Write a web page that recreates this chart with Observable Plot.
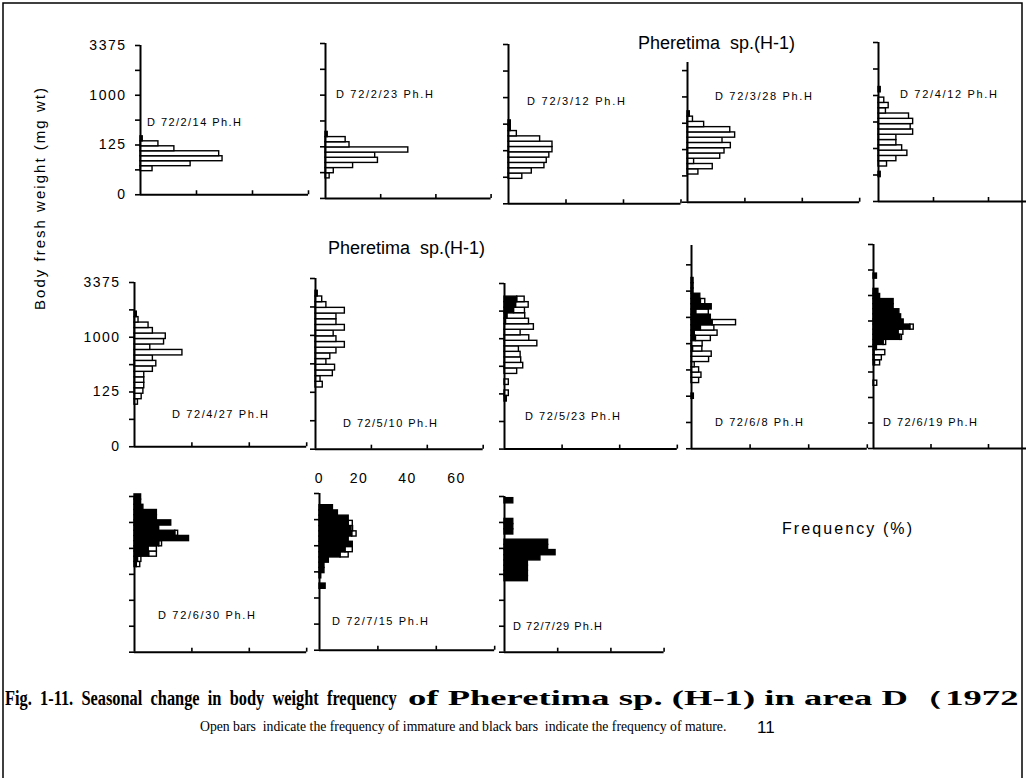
<!DOCTYPE html>
<html><head><meta charset="utf-8">
<script src="https://cdn.jsdelivr.net/npm/d3@7"></script>
<script src="https://cdn.jsdelivr.net/npm/@observablehq/plot@0.6"></script>
<style>
html,body{margin:0;padding:0;overflow:hidden;background:#fff}
#fig{position:relative;width:1026px;height:778px;overflow:hidden;background:#fff}
.panel{position:absolute}
.panel svg{background:transparent !important;overflow:visible;max-width:none !important}
#overlay{position:absolute;left:0;top:0;pointer-events:none}
</style></head>
<body><div id="fig"></div>
<script>
// ---------- DATA (frequency %, classes of 0.5 in cube-root of body weight, mg^(1/3)) ----------
const dates = ["72/2/14","72/2/23","72/3/12","72/3/28","72/4/12","72/4/27","72/5/10","72/5/23","72/6/8","72/6/19","72/6/30","72/7/15","72/7/29"];
// lower cube-root bound of the first class of each sample
const classStart = [2.37, 1.94, 2.35, 2.63, 2.3, 3.84, 5.42, 4.31, 4.75, 6.15, 8.2, 5.88, 6.34];

const immature_0214 = [4.3, 17.9, 29.3, 28.1, 12.1, 6.4, 0];
const mature_0214   = [0, 0, 0, 0, 0, 0, 0.8];
const immature_0223 = [1.5, 3.0, 10.0, 19.0, 18.0, 30.0, 8.7, 7.3, 0];
const mature_0223   = [0, 0, 0, 0, 0, 0, 0, 0, 0.8];
const immature_0312 = [4.8, 8.1, 12.5, 13.3, 14.2, 15.3, 15.3, 11.0, 2.9, 0, 0];
const mature_0312   = [0, 0, 0, 0, 0, 0, 0, 0, 0, 0.8, 0.8];
const immature_0328 = [3.8, 8.8, 2.3, 11.4, 12.9, 15.1, 12.2, 16.6, 14.9, 5.8, 1.9, 0];
const mature_0328   = [0, 0, 0, 0, 0, 0, 0, 0, 0, 0, 0, 0.8];
const immature_0412 = [0, 0, 3.1, 6.5, 10.5, 8.6, 6.5, 6.5, 12.6, 11.7, 12.6, 11.1, 2.7, 3.7, 2.1, 0, 0];
const mature_0412   = [0.8, 0, 0, 0, 0, 0, 0, 0, 0, 0, 0, 0, 0, 0, 0, 0, 0.8];
const immature_0427 = [1.2, 2.5, 3.1, 3.4, 3.4, 3.4, 6.4, 7.6, 6.4, 16.7, 5.5, 10.3, 10.9, 6.4, 4.9, 1.4, 0];
const mature_0427   = [0, 0, 0, 0, 0, 0, 0, 0, 0, 0, 0, 0, 0, 0, 0, 0, 0.8];
const immature_0510 = [2.6, 1.8, 6.2, 7.0, 3.9, 5.3, 7.5, 10.5, 7.5, 6.5, 10.5, 7.5, 7.5, 10.5, 3.9, 2.4, 0];
const mature_0510   = [0, 0, 0, 0, 0, 0, 0, 0, 0, 0, 0, 0, 0, 0, 0, 0, 0.8];
const immature_0523 = [0, 1.5, 0, 1.5, 0, 4.4, 6.5, 5.8, 5.6, 5.0, 11.4, 8.6, 5.6, 10.2, 8.0, 6.2, 3.8, 4.4, 2.6];
const mature_0523   = [0.8, 0, 0, 0, 0, 0, 0, 0, 0, 0, 0, 0, 0, 0, 0.5, 1.0, 3.3, 4.0, 4.4];
const immature_0608 = [0, 0, 0, 2.6, 3.4, 2.6, 1.1, 6.0, 6.9, 3.2, 3.8, 5.1, 7.8, 4.6, 8.0, 0, 4.3, 0, 1.5, 0, 0, 0, 0];
const mature_0608   = [0.8, 0, 0, 0, 0, 0, 0, 0, 0, 0.5, 0, 1.5, 1.1, 3.2, 7.2, 6.6, 1.6, 6.9, 3.2, 3.0, 0.7, 0.7, 0.7];
const immature_0619 = [1.3, 0, 0, 0, 1.8, 2.6, 3.8, 0, 0.9, 0.6, 1.7, 1.2, 0, 0, 0, 0, 0, 0, 0, 0, 0, 0];
const mature_0619   = [0, 0, 0, 0, 0.5, 0.3, 0.3, 1.2, 3.5, 9.3, 8.7, 12.8, 10.5, 9.6, 9.0, 7.0, 7.0, 2.3, 1.7, 0, 0, 1.2];
const immature_0630 = [1.2, 1.2, 2.7, 2.9, 1.0, 0, 1.0, 0, 0, 0, 0, 0, 0, 0];
const mature_0630   = [0.8, 1.2, 5.1, 4.9, 8.6, 19.0, 14.2, 8.6, 12.8, 7.8, 7.8, 3.1, 2.3, 2.3];
const immature_0715 = [0, 0, 0, 0, 0, 0, 2.8, 2.5, 0, 0, 1.5, 0.6, 1.4, 0, 0, 0];
const mature_0715   = [2.1, 0, 0.6, 1.7, 1.7, 3.2, 7.2, 8.9, 11.4, 10.0, 11.2, 10.9, 10.0, 10.0, 6.3, 4.6];
const immature_0729 = [0, 0, 0, 0, 0, 0, 0, 0, 0, 0, 0, 0, 0, 0, 0, 0, 0];
const mature_0729   = [0, 8.8, 8.8, 8.8, 8.8, 13.5, 19.2, 16.4, 16.4, 0, 3.3, 3.3, 3.3, 0, 0, 0, 3.3];

const immature = [immature_0214, immature_0223, immature_0312, immature_0328, immature_0412, immature_0427, immature_0510, immature_0523, immature_0608, immature_0619, immature_0630, immature_0715, immature_0729];
const mature   = [mature_0214, mature_0223, mature_0312, mature_0328, mature_0412, mature_0427, mature_0510, mature_0523, mature_0608, mature_0619, mature_0630, mature_0715, mature_0729];

const weightTickLabels = {0: "0", 5: "125", 10: "1000", 15: "3375"}; // cube roots -> mg
const freqTicks = [0, 20, 40, 60];

// ---------- LAYOUT (page pixels) ----------
const layout = [
  {ax:140,   ay:194.5, sx:2.8,   su:9.95,  top:15,    labels:true,  tx:147, ty:126, tw:94},
  {ax:325,   ay:198.3, sx:2.76,  su:10.33, top:15,    labels:false, tx:336, ty:98,  tw:97},
  {ax:508.3, ay:203.3, sx:2.875, su:10.62, top:15,    labels:false, tx:527, ty:105, tw:98},
  {ax:687.3, ay:201.7, sx:2.87,  su:10.53, top:13.27, labels:false, tx:715, ty:100, tw:97},
  {ax:878.3, ay:200.7, sx:2.75,  su:10.6,  top:15,    labels:false, tx:900, ty:98,  tw:97},
  {ax:134.3, ay:446,   sx:2.87,  su:10.95, top:15,    labels:true,  tx:172, ty:418, tw:96},
  {ax:315,   ay:449,   sx:2.795, su:11.38, top:15,    labels:false, tx:343, ty:427, tw:94},
  {ax:504,   ay:448.3, sx:2.88,  su:11.04, top:15,    labels:false, tx:525, ty:420, tw:95},
  {ax:690.7, ay:448.3, sx:2.93,  su:10.51, top:19.34, labels:false, tx:715, ty:426, tw:88},
  {ax:873.3, ay:448.3, sx:2.875, su:10.2,  top:20,    labels:false, tx:883, ty:426, tw:94},
  {ax:134,   ay:651.7, sx:2.87,  su:10.38, top:15,    labels:false, tx:158, ty:619, tw:97},
  {ax:319,   ay:650,   sx:2.92,  su:10.45, top:15,    labels:false, tx:332, ty:625, tw:96},
  {ax:504,   ay:651.7, sx:2.66,  su:10.38, top:15,    labels:false, tx:513, ty:630, tw:89}
];

const fig = document.getElementById("fig");
const cube = u => u * u * u;
const SANS = "'Liberation Sans', Arial, sans-serif";
const SERIF = "'Liberation Serif', 'Times New Roman', serif";

// ---------- PANELS ----------
dates.forEach((date, p) => {
  const L = layout[p];
  const rows = mature[p].map((m, k) => ({
    lo: cube(classStart[p] + k * 0.5),
    hi: cube(classStart[p] + (k + 1) * 0.5),
    m, i: immature[p][k]
  }));
  const mL = 60, mR = 6, mT = 6, mB = 6;
  const plotW = 60 * L.sx, plotH = L.top * L.su;
  const tickU = d3.range(0, L.top + 1e-6, 2.5);
  const chart = Plot.plot({
    width: mL + plotW + mR, height: mT + plotH + mB,
    marginLeft: mL, marginRight: mR, marginTop: mT, marginBottom: mB,
    style: {background: "transparent", overflow: "visible", fontFamily: SANS, letterSpacing: "1.5px", color: "black"},
    x: {domain: [0, 60], label: null},
    y: {type: "pow", exponent: 1/3, domain: [0, cube(L.top)], label: null},
    marks: [
      Plot.rect(rows.filter(d => d.i > 0), {x1: "m", x2: d => d.m + d.i, y1: "lo", y2: "hi", fill: "white", stroke: "black", strokeWidth: 1.4}),
      Plot.rect(rows.filter(d => d.m > 0), {x1: 0, x2: "m", y1: "lo", y2: "hi", fill: "black", stroke: "black", strokeWidth: 1.4}),
      Plot.ruleX([0], {y1: 0, y2: cube(L.top), strokeWidth: 2}),
      Plot.ruleY([0], {x1: 0, x2: 60, strokeWidth: 2}),
      Plot.axisY({
        ticks: tickU.map(cube), tickSize: 5, tickPadding: 9, strokeWidth: 1.6, fontSize: 14, label: null,
        tickFormat: d => L.labels ? (weightTickLabels[Math.round(Math.cbrt(d) * 2) / 2] ?? "") : ""
      }),
      Plot.axisX({ticks: freqTicks.slice(1), tickSize: 4, dy: -4, strokeWidth: 1.6, label: null, tickFormat: () => ""})
    ]
  });
  const div = document.createElement("div");
  div.className = "panel";
  div.style.left = (L.ax - mL) + "px";
  div.style.top = (L.ay - plotH - mT) + "px";
  div.style.width = (mL + plotW + mR) + "px";
  div.appendChild(chart);
  fig.appendChild(div);
});

// ---------- TEXT OVERLAY ----------
const NS = "http://www.w3.org/2000/svg";
const svg = document.createElementNS(NS, "svg");
svg.setAttribute("id", "overlay");
svg.setAttribute("width", 1026); svg.setAttribute("height", 778);
fig.appendChild(svg);
function txt(str, x, y, o = {}) {
  const t = document.createElementNS(NS, "text");
  t.textContent = str;
  t.setAttribute("x", x); t.setAttribute("y", y);
  t.setAttribute("font-family", o.family || SANS);
  t.setAttribute("font-size", o.size || 12);
  if (o.weight) t.setAttribute("font-weight", o.weight);
  if (o.anchor) t.setAttribute("text-anchor", o.anchor);
  if (o.spacing) t.setAttribute("letter-spacing", o.spacing);
  if (o.rotate) t.setAttribute("transform", `rotate(${o.rotate} ${x} ${y})`);
  if (o.len) { t.setAttribute("textLength", o.len); t.setAttribute("lengthAdjust", "spacing"); }
  t.setAttribute("xml:space", "preserve");
  t.style.whiteSpace = "pre";
  svg.appendChild(t);
  if (o.fit) {
    // scale the font so that its natural width equals the target, keep glyph height at o.size
    const w = t.getComputedTextLength();
    const f = o.size * o.fit / w;
    t.setAttribute("font-size", f);
    t.setAttribute("transform", `translate(${x} ${y}) scale(1 ${o.size / f}) translate(${-x} ${-y})`);
  }
  return t;
}
// frame
const fr = document.createElementNS(NS, "rect");
fr.setAttribute("x", 3); fr.setAttribute("y", 3); fr.setAttribute("width", 1019); fr.setAttribute("height", 800);
fr.setAttribute("fill", "none"); fr.setAttribute("stroke", "black"); fr.setAttribute("stroke-width", 1.5);
svg.appendChild(fr);

txt("Body fresh weight (mg wt)", 45, 199, {size: 15, anchor: "middle", rotate: -90, len: 222});
txt("Pheretima  sp.(H-1)", 638, 49, {size: 18});
txt("Pheretima  sp.(H-1)", 328, 254, {size: 18});
dates.forEach((d, p) => {
  const L = layout[p];
  txt(`D ${d} Ph.H`, L.tx, L.ty, {size: 11, len: L.tw});
});
const freqLabelX = [319.5, 359, 407.5, 456.5];
freqTicks.forEach((v, i) => txt(String(v), freqLabelX[i], 483, {size: 14, anchor: "middle", spacing: 1.5}));
txt("Frequency (%)", 782, 534, {size: 16, len: 130});
txt("Fig.  1-11.  Seasonal  change  in  body  weight  frequency", 5, 705, {size: 20, weight: "bold", family: SERIF, fit: 392});
txt("of Pheretima sp. (H-1) in area D（1972", 408, 705, {size: 20, weight: "bold", family: SERIF, fit: 610});
txt("Open bars  indicate the frequency of immature and black bars  indicate the frequency of mature.", 200, 731, {size: 15, family: SERIF, fit: 527});
txt("11", 757, 733, {size: 17});
</script>
</body></html>
